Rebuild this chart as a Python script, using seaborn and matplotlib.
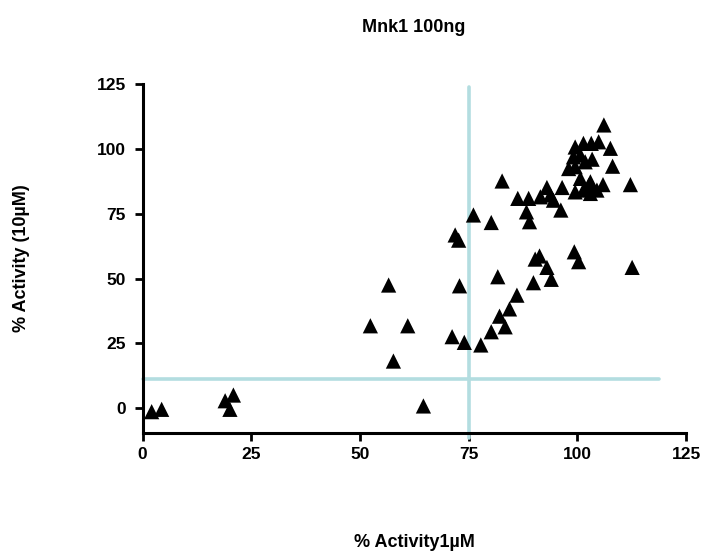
import matplotlib
matplotlib.use("Agg")
import matplotlib.pyplot as plt
import seaborn as sns
import pandas as pd

title = "Mnk1 100ng"
x_label = "% Activity1µM"
y_label = "% Activity (10µM)"
ticks = [0, 25, 50, 75, 100, 125]
x_cut = 75.1
y_cut = 11.3

act_1uM = [2.1, 4.4, 19.0, 20.9, 20.1,
           52.4, 56.6, 57.7, 61.0, 64.6,
           71.2, 72.9, 71.9, 72.7, 74.0, 76.1, 77.8,
           80.2, 80.2, 81.7, 82.1, 83.4, 84.4, 86.1, 82.7,
           89.9, 94.0, 90.3, 91.3, 93.0,
           86.3, 88.8, 88.3, 89.0, 91.5, 93.0, 93.8, 94.5, 96.2, 96.5,
           99.3, 100.3, 112.6,
           106.1, 107.6, 104.9, 103.2, 101.4, 99.5, 99.1, 100.7, 103.4, 101.8,
           98.0, 108.1, 100.7, 99.5, 99.5, 102.6, 103.0, 105.9, 104.5, 101.4,
           112.2, 103.0]
act_10uM = [-1.3, -0.4, 2.9, 5.1, -0.4,
            31.8, 47.5, 18.2, 31.8, 0.9,
            27.6, 47.2, 66.8, 64.8, 25.4, 74.5, 24.4,
            29.5, 71.6, 50.7, 35.5, 31.4, 38.3, 43.6, 87.6,
            48.4, 49.7, 57.5, 58.7, 54.3,
            80.9, 80.9, 75.7, 71.9, 81.5, 85.1, 82.2, 80.2, 76.4, 85.1,
            60.3, 56.5, 54.3,
            109.2, 100.2, 102.7, 102.1, 102.1, 100.7, 96.9, 97.6, 96.0, 95.0,
            92.4, 93.3, 88.6, 93.1, 83.4, 85.9, 82.8, 86.2, 84.1, 84.1,
            86.2, 87.3]

df = pd.DataFrame({"x": act_1uM, "y": act_10uM})

sns.set_style("ticks")
plt.rcParams["font.family"] = ["Liberation Sans", "DejaVu Sans"]
plt.rcParams["font.weight"] = "bold"
plt.rcParams["text.color"] = "black"
plt.rcParams["axes.labelcolor"] = "black"
plt.rcParams["xtick.color"] = "black"
plt.rcParams["ytick.color"] = "black"

fig = plt.figure(figsize=(7.08, 5.56), dpi=100)
ax = fig.add_axes([0.2013, 0.2218, 0.7677, 0.6272])

line_color = "#b3dde0"
ax.plot([0, 118.8], [y_cut, y_cut], color=line_color, lw=2.6, zorder=1, clip_on=False)
ax.plot([x_cut, x_cut], [-11.4, 123.8], color=line_color, lw=2.6, zorder=1, clip_on=False)

sns.scatterplot(data=df, x="x", y="y", marker="^", color="black", s=120,
                edgecolor="none", linewidth=0, ax=ax, zorder=3, clip_on=False)

ax.set_xlim(0, 125)
ax.set_ylim(-9.4, 125)
ax.set_xticks(ticks)
ax.set_yticks(ticks)
ax.set_xticklabels([str(t) for t in ticks], fontsize=12.5, fontweight="bold", color="black")
ax.set_yticklabels([str(t) for t in ticks], fontsize=12.5, fontweight="bold", color="black")
ax.tick_params(axis="x", direction="out", length=6, width=2, color="black", pad=4)
ax.tick_params(axis="y", direction="out", length=6, width=2, color="black", pad=6)

for s in ["top", "right"]:
    ax.spines[s].set_visible(False)
for s in ["left", "bottom"]:
    ax.spines[s].set_linewidth(2.2)
    ax.spines[s].set_color("black")
ax.spines["left"].set_bounds(-9.4, 125)

ax.set_xlabel(x_label, fontsize=13, fontweight="bold", color="black")
ax.xaxis.set_label_coords(0.5, -0.316)
ax.xaxis.label.set_va("center")
ax.set_ylabel(y_label, fontsize=13, fontweight="bold", color="black")
ax.yaxis.set_label_coords(-0.222, 0.5)
ax.yaxis.label.set_va("center")
fig.text(414 / 708, 1 - 27 / 556, title, fontsize=13, fontweight="bold",
         color="black", ha="center", va="center")

fig.savefig("out.png", dpi=100)
